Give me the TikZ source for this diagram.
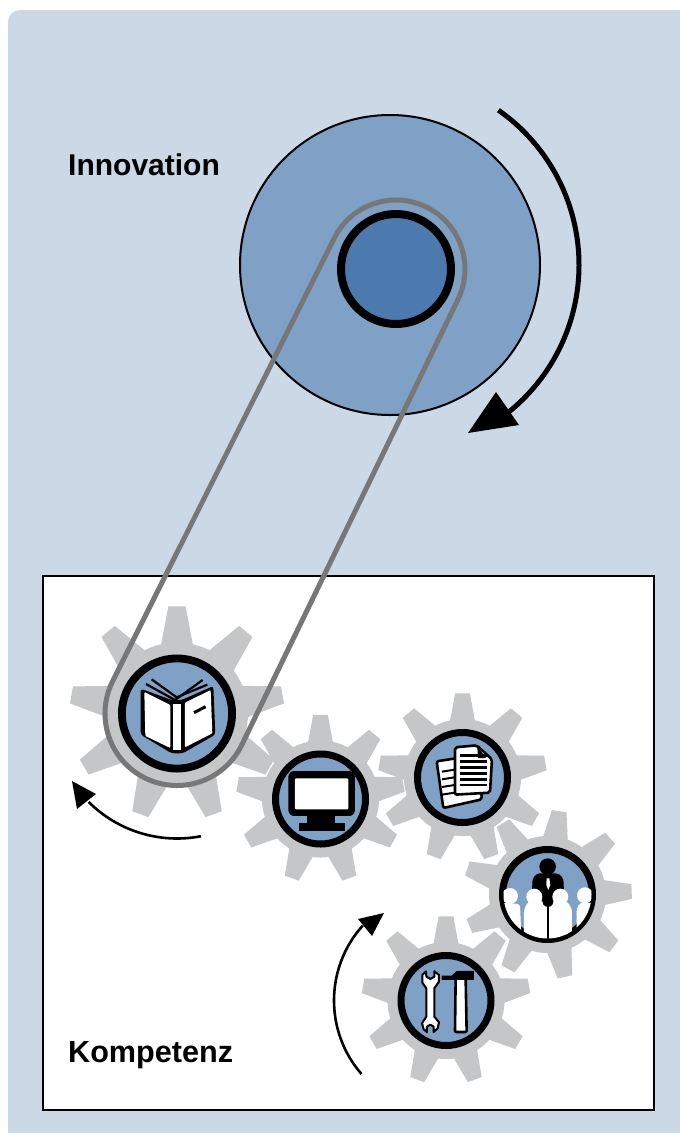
\documentclass[tikz,border=0pt]{standalone}
\usepackage{fontspec}
\setmainfont{Liberation Sans}
\definecolor{panelblue}{HTML}{CBD9E6}
\definecolor{midblue}{HTML}{7FA1C5}
\definecolor{deepblue}{HTML}{4C7AAE}
\definecolor{geargray}{HTML}{C4C6C8}
\definecolor{beltgray}{HTML}{777777}
\tikzset{
  label text/.style={font=\bfseries\fontsize{30}{30}\selectfont,anchor=base west,inner sep=0pt},
  ringstyle/.style={fill=midblue,draw=black},
  iconline/.style={draw=black,fill=white,line width=2.6pt,line join=round},
  belt/.style={draw=beltgray,line width=5pt,line join=round},
}
% \gearshape{name}{x}{y}{rotation}{valley radius}{tip radius}{half angle base}{half angle tip}
\newcommand{\gearshape}[8]{%
  \coordinate (#1) at (#2,-#3);
  \fill[geargray] (#1) circle[radius=#5pt];
  \foreach \k in {0,...,8}{%
    \pgfmathsetmacro{\a}{90+#4+40*\k}
    \fill[geargray] ($(#1)+(\a-#7:#5pt-3pt)$) -- ($(#1)+(\a-#8:#6pt)$) -- ($(#1)+(\a+#8:#6pt)$) -- ($(#1)+(\a+#7:#5pt-3pt)$) -- cycle;
  }%
}
\usetikzlibrary{calc,arrows.meta}
\begin{document}
\begin{tikzpicture}[x=1pt,y=1pt]
\useasboundingbox (0,0) rectangle (680,-1133);
\fill[white] (0,0) rectangle (680,-1133);
\fill[panelblue] (8,-1133) -- (8,-22) arc[start angle=180,end angle=90,radius=12pt] -- (680,-10) -- (680,-1133) -- cycle;
% Innovation disc
\coordinate (disc) at (390,-265);
\coordinate (hub) at (396,-269);
\fill[midblue,draw=black,line width=2pt] (disc) circle[radius=150pt];
\fill[deepblue,draw=black,line width=8pt] (hub) circle[radius=55pt];
\draw[black,line width=5pt] ($(disc)+(55:189pt)$) arc[start angle=55,end angle=-51,radius=189pt];
\coordinate (bigtipA) at (496,-392);
\coordinate (bigtipB) at (468,-433);
\coordinate (bigtipC) at (519,-425);
\fill[black] (bigtipA) -- (bigtipB) -- (bigtipC) -- cycle;
\node[label text] (innovation) at (68,-175) {Innovation};
% Kompetenz box
\draw[fill=white,draw=black,line width=2pt] (43,-576) rectangle (654,-1110);
\node[label text,font=\bfseries\fontsize{30.6}{30.6}\selectfont] (kompetenz) at (68,-1062) {Kompetenz};
% gears
\gearshape{gbook}{177}{713.5}{0}{71}{107.5}{14}{4.6}
\gearshape{gmon}{320.5}{799}{0}{58.5}{84.5}{13.5}{5}
\gearshape{gdoc}{462.5}{777.5}{0}{58.5}{84.5}{13.5}{5}
\gearshape{gppl}{547.5}{894.5}{-8}{58.5}{84.5}{13.5}{5}
\gearshape{gtool}{446}{1000.5}{0}{58.5}{84.5}{13.5}{5}
% rings
\draw[ringstyle,line width=7.8pt] (gbook) circle[radius=55.1pt];
\draw[ringstyle,line width=7pt] (gmon) circle[radius=45pt];
\draw[ringstyle,line width=7pt] (gdoc) circle[radius=45pt];
\draw[ringstyle,line width=7pt] (gppl) circle[radius=45pt];
\draw[ringstyle,line width=7pt] (gtool) circle[radius=45pt];
% book icon
\begin{scope}[shift={(60pt,-590pt)},x=0.3333pt,y=-0.3333pt]
  \draw[black,line width=2.2pt] (258,282) -- (345,330) -- (428,270);
  \draw[black,line width=2.2pt] (275,268) -- (350,322) -- (442,284);
  \fill[black,rounded corners=3pt] (242,296) -- (335,330) -- (365,330) -- (460,288) -- (466,434) -- (368,490) -- (335,490) -- (242,434) -- cycle;
  \fill[white,rounded corners=1pt] (253,306) -- (331,345) -- (331,474) -- (256,438) -- cycle;
  \fill[white] (340,343) -- (364,343) -- (364,480) -- (340,480) -- cycle;
  \fill[white,rounded corners=1pt] (375,338) -- (452,300) -- (457,430) -- (375,472) -- cycle;
  \draw[black,line width=3pt] (402,368) -- (437,350);
\end{scope}
% monitor icon
\begin{scope}[shift={(240pt,-690pt)},x=0.3333pt,y=-0.3333pt]
  \fill[black,rounded corners=6pt] (145,243) rectangle (345,378);
  \fill[white,rounded corners=1pt] (165,265) rectangle (325,358);
  \fill[black] (200,370) rectangle (285,405);
  \fill[black] (177,400) rectangle (315,423);
\end{scope}
% documents icon
\begin{scope}[shift={(240pt,-690pt)},x=0.3333pt,y=-0.3333pt]
  \draw[iconline,rounded corners=2pt] (590,214) -- (712,195) -- (726,328) -- (610,354) -- cycle;
  \foreach \yy in {245,268,291,314}{\draw[black,line width=2pt] (606,\yy) -- (650,\yy-7);}
  \draw[iconline,rounded corners=2pt] (645,172) -- (710,166) -- (756,208) -- (750,308) -- (645,314) -- cycle;
  \fill[black] (712,170) -- (738,204) -- (714,204) -- cycle;
  \foreach \yy in {197,215,232,250,268,285}{\draw[black,line width=2.4pt] (660,\yy) -- (740,\yy);}
\end{scope}
% people icon
\begin{scope}
  \clip (gppl) circle[radius=44pt];
  \begin{scope}[shift={(350pt,-810pt)},x=0.3333pt,y=-0.3333pt]
    \fill[white,rounded corners=3pt] (455,278) -- (510,282) -- (515,400) -- (455,400) -- cycle;
    \fill[white,rounded corners=3pt] (522,298) -- (535,274) -- (585,274) -- (592,285) -- (592,400) -- (522,400) -- cycle;
    \fill[white,rounded corners=3pt] (596,285) -- (605,274) -- (652,274) -- (666,298) -- (666,400) -- (596,400) -- cycle;
    \fill[white,rounded corners=3pt] (680,295) -- (690,278) -- (730,278) -- (730,400) -- (680,400) -- cycle;
    \fill[white] (480,258) circle[radius=8pt];
    \fill[white] (705,256) circle[radius=8pt];
    \fill[black,rounded corners=2pt] (546,242) -- (548,205) -- (562,190) -- (625,190) -- (640,205) -- (642,242) -- (615,250) -- (606,290) -- (582,290) -- (570,250) -- cycle;
    \fill[white] (553,260) circle[radius=8pt];
    \fill[white] (631,260) circle[radius=8pt];
    \fill[black] (593,170) circle[radius=8.3pt];
    \fill[white] (590,205) -- (598,205) -- (601,225) -- (595,240) -- (589,225) -- cycle;
    \draw[black,line width=2.4pt] (594,280) -- (594,400);
  \end{scope}
\end{scope}
% tools icon
\begin{scope}[shift={(350pt,-810pt)},x=0.3333pt,y=-0.3333pt]
  \draw[iconline,line width=2pt] (228,484) -- (217,495) -- (217,518) -- (229,535) -- (229,620) -- (216,640) -- (221,658) -- (231,666) -- (231,650) -- (241,644) -- (251,650) -- (251,666) -- (263,655) -- (267,637) -- (253,620) -- (253,535) -- (267,515) -- (267,495) -- (253,484) -- (253,500) -- (241,507) -- (229,500) -- cycle;
  \draw[iconline,rounded corners=1pt] (317,505) -- (347,505) -- (350,666) -- (315,666) -- cycle;
  \fill[black] (275,497) -- (305,497) -- (320,483) -- (372,483) -- (372,510) -- (275,510) -- cycle;
\end{scope}
% small arrows
\draw[black,line width=2.6pt] ($(gbook)+(-79:125pt)$) arc[start angle=-79,end angle=-135,radius=125pt];
\coordinate (stipA) at (72,-781);
\coordinate (stipB) at (96,-794);
\coordinate (stipC) at (77,-809);
\fill[black] (stipA) -- (stipB) -- (stipC) -- cycle;
\draw[black,line width=2.6pt] ($(gtool)+(221:112pt)$) arc[start angle=221,end angle=138,radius=112pt];
\coordinate (ttipA) at (384,-913);
\coordinate (ttipB) at (358,-919);
\coordinate (ttipC) at (372,-936);
\fill[black] (ttipA) -- (ttipB) -- (ttipC) -- cycle;
% belt
\draw[belt] ($(gbook)+(153.7:72pt)$) -- ($(hub)+(153.7:69pt)$) arc[start angle=153.7,end angle=-26.3,radius=69pt] -- ($(gbook)+(-26.3:72pt)$) arc[start angle=-26.3,end angle=-206.3,radius=72pt] -- cycle;
\end{tikzpicture}
\end{document}
